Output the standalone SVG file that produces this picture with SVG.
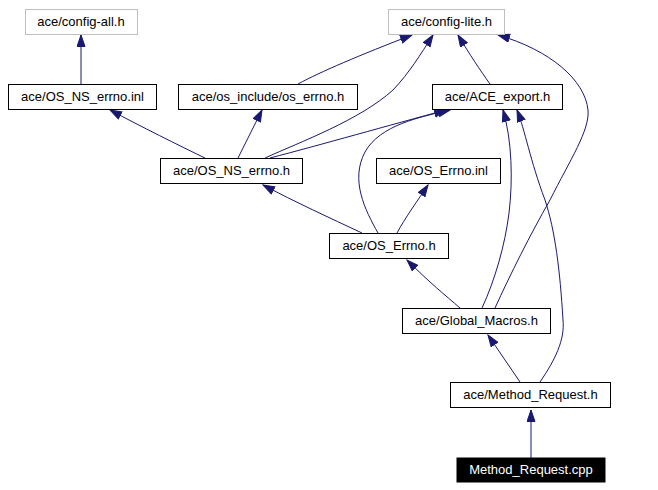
<svg xmlns="http://www.w3.org/2000/svg" width="658" height="490" viewBox="0 0 658 490">
<defs>
<marker id="arr" markerUnits="userSpaceOnUse" markerWidth="13" markerHeight="10" refX="12" refY="4.5" orient="auto">
<path d="M0.5,0.5 L12,4.5 L0.5,8.5 z" fill="#191970" stroke="#191970" stroke-width="1"/>
</marker>
</defs>
<style>
.n rect{fill:#fff;stroke:#000;stroke-width:1}
.n.g rect{stroke:#bfbfbf}
.n text{font-family:"Liberation Sans",Arial,sans-serif;font-size:13px;text-anchor:middle;fill:#000}
.n.d rect{fill:#000;stroke:#000}
.n.d text{fill:#fff}
#edges path{fill:none;stroke:#191970;stroke-width:1;marker-end:url(#arr)}
</style>
<rect width="658" height="490" fill="#fff"/>
<g id="edges">
<path d="M81,84 L81,35"/>
<path d="M205,158 C180,146 140,126 110,110"/>
<path d="M238,158 L262,110"/>
<path d="M298,84 C320,72 360,55 412,35"/>
<path d="M265,158 C300,142 360,120 393,90 C410,72 420,55 433,35"/>
<path d="M270,158 C320,145 390,125 446,110"/>
<path d="M378,233 C365,210 350,180 365,152 C380,125 420,117 450,110"/>
<path d="M362,233 C330,218 295,202 263,185"/>
<path d="M397,233 C405,218 418,200 428,185"/>
<path d="M490,84 C480,70 470,55 458,35"/>
<path d="M460,308 C445,295 430,283 407,260"/>
<path d="M482,308 C495,280 505,245 509,213 C513,180 512,140 503,110"/>
<path d="M495,308 C510,275 530,235 550,200 C570,160 590,130 588,110 C585,80 550,50 498,35"/>
<path d="M520,382 L488,335"/>
<path d="M540,382 C555,360 565,340 563,320 C560,270 555,230 545,200 C530,160 525,130 517,110"/>
<path d="M531,458 L531,410"/>
</g>
<g id="config_all" class="n g"><rect x="25.5" y="9.5" width="112" height="25"/><text x="81" y="26">ace/config-all.h</text></g>
<g id="config_lite" class="n g"><rect x="388.5" y="9.5" width="116" height="25"/><text x="446.5" y="26">ace/config-lite.h</text></g>
<g id="os_ns_errno_inl" class="n"><rect x="8.5" y="84.5" width="148" height="25"/><text x="82.5" y="101">ace/OS_NS_errno.inl</text></g>
<g id="os_include_os_errno_h" class="n"><rect x="178.5" y="84.5" width="179" height="25"/><text x="268" y="101">ace/os_include/os_errno.h</text></g>
<g id="ace_export_h" class="n"><rect x="432.5" y="84.5" width="130" height="25"/><text x="497.5" y="101">ace/ACE_export.h</text></g>
<g id="os_ns_errno_h" class="n"><rect x="160.5" y="158.5" width="142" height="25"/><text x="231.5" y="175">ace/OS_NS_errno.h</text></g>
<g id="os_errno_inl" class="n"><rect x="376.5" y="158.5" width="124" height="25"/><text x="438.5" y="175">ace/OS_Errno.inl</text></g>
<g id="os_errno_h" class="n"><rect x="329.5" y="233.5" width="119" height="25"/><text x="389" y="250">ace/OS_Errno.h</text></g>
<g id="global_macros_h" class="n"><rect x="402.5" y="308.5" width="148" height="25"/><text x="476.5" y="325">ace/Global_Macros.h</text></g>
<g id="method_request_h" class="n"><rect x="450.5" y="382.5" width="160" height="25"/><text x="530.5" y="399">ace/Method_Request.h</text></g>
<g id="method_request_cpp" class="n d"><rect x="457" y="458" width="148" height="24"/><text x="531" y="474">Method_Request.cpp</text></g>
</svg>
